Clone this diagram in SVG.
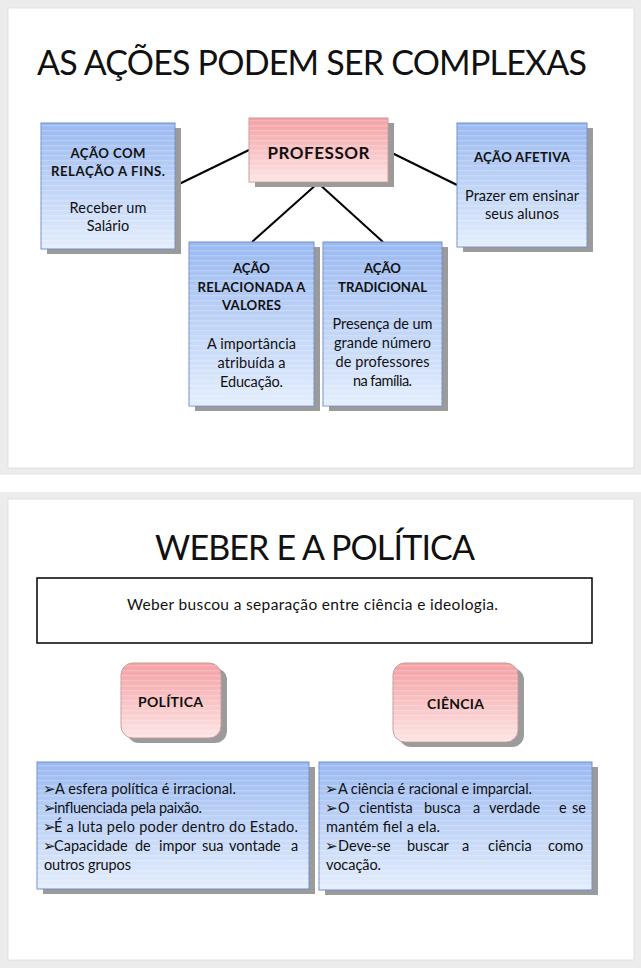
<svg xmlns="http://www.w3.org/2000/svg" width="641" height="968" viewBox="0 0 641 968">
<defs>
<linearGradient id="blue" x1="0" y1="0" x2="0" y2="1">
<stop offset="0" stop-color="#9ab9f1"/>
<stop offset="1" stop-color="#e4eefd"/>
</linearGradient>
<linearGradient id="pink" x1="0" y1="0" x2="0" y2="1">
<stop offset="0" stop-color="#f4a0a3"/>
<stop offset="1" stop-color="#fde5e5"/>
</linearGradient>
<pattern id="stripes" width="8" height="5" patternUnits="userSpaceOnUse">
<rect x="0" y="0" width="8" height="1.4" fill="#ffffff" fill-opacity="0.2"/>
</pattern>
</defs>
<style>
.bg{fill:#ececec}
.slide{fill:#ffffff;stroke:#dcdcdc;stroke-width:0.8}
.shadow{fill:#9b9b9b}
.bbox{fill:url(#blue);stroke:#7090cc;stroke-width:1}
.pbox{fill:url(#pink);stroke:#c99a9a;stroke-width:1}
.str{fill:url(#stripes);stroke:none}
.title{font-family:Lato,"Open Sans",sans-serif;font-size:34px;fill:#111;text-anchor:middle}
.hb{font-family:Lato,"Open Sans",sans-serif;font-size:13.2px;font-weight:bold;fill:#111;text-anchor:middle}
.tb{font-family:Lato,"Open Sans",sans-serif;font-size:14.5px;fill:#111;text-anchor:middle}
.tl{font-family:Lato,"Open Sans",sans-serif;font-size:14.5px;fill:#111}
.ar{font-family:"DejaVu Sans",sans-serif;font-size:15px;fill:#111}
.conn{stroke:#000;stroke-width:2;fill:none}
</style>
<rect x="0" y="0" width="641" height="968" fill="#ffffff"/>
<rect class="bg" x="0" y="0" width="641" height="475"/>
<rect class="bg" x="0" y="492" width="641" height="476"/>
<rect class="slide" x="8" y="8" width="626" height="460"/>
<rect class="slide" x="8" y="499" width="626" height="461"/>

<text class="title" x="312" y="75" textLength="550">AS AÇÕES PODEM SER COMPLEXAS</text>

<g id="connectors">
<line class="conn" x1="249" y1="150" x2="175" y2="186"/>
<line class="conn" x1="388" y1="151" x2="457" y2="185"/>
<line class="conn" x1="318" y1="183" x2="252" y2="242"/>
<line class="conn" x1="318" y1="183" x2="383" y2="242"/>
</g>

<g id="professor">
<rect class="shadow" x="255" y="123" width="139" height="64"/>
<rect class="pbox" x="249" y="118" width="139" height="64"/>
<rect class="str" x="249" y="118" width="139" height="64"/>
<text class="hb" x="318.5" y="159" style="font-size:17px" textLength="102">PROFESSOR</text>
</g>

<g id="acao-fins">
<rect class="shadow" x="47" y="128" width="134" height="126"/>
<rect class="bbox" x="41" y="123" width="134" height="126"/>
<rect class="str" x="41" y="123" width="134" height="126"/>
<text class="hb" x="108" y="158" textLength="75">AÇÃO COM</text>
<text class="hb" x="108" y="176" textLength="114">RELAÇÃO A FINS.</text>
<text class="tb" x="108" y="213" textLength="77">Receber um</text>
<text class="tb" x="108" y="231">Salário</text>
</g>

<g id="acao-afetiva">
<rect class="shadow" x="463" y="128" width="130" height="124"/>
<rect class="bbox" x="457" y="123" width="130" height="124"/>
<rect class="str" x="457" y="123" width="130" height="124"/>
<text class="hb" x="522" y="162" textLength="96">AÇÃO AFETIVA</text>
<text class="tb" x="522" y="201" textLength="114">Prazer em ensinar</text>
<text class="tb" x="522" y="219" textLength="74">seus alunos</text>
</g>

<g id="acao-valores">
<rect class="shadow" x="195" y="247" width="125" height="164"/>
<rect class="bbox" x="189" y="242" width="125" height="164"/>
<rect class="str" x="189" y="242" width="125" height="164"/>
<text class="hb" x="251.5" y="273" textLength="37">AÇÃO</text>
<text class="hb" x="251.5" y="292" textLength="108">RELACIONADA A</text>
<text class="hb" x="251.5" y="310" textLength="59">VALORES</text>
<text class="tb" x="251.5" y="349" textLength="89">A importância</text>
<text class="tb" x="251.5" y="368" textLength="68">atribuída a</text>
<text class="tb" x="251.5" y="387" textLength="63">Educação.</text>
</g>

<g id="acao-tradicional">
<rect class="shadow" x="329" y="247" width="119" height="164"/>
<rect class="bbox" x="323" y="242" width="119" height="164"/>
<rect class="str" x="323" y="242" width="119" height="164"/>
<text class="hb" x="382.5" y="273" textLength="37">AÇÃO</text>
<text class="hb" x="382.5" y="292" textLength="89">TRADICIONAL</text>
<text class="tb" x="382.5" y="329" textLength="100">Presença de um</text>
<text class="tb" x="382.5" y="348" textLength="97">grande número</text>
<text class="tb" x="382.5" y="367" textLength="94">de professores</text>
<text class="tb" x="382.5" y="386" textLength="59">na família.</text>
</g>

<text class="title" x="315" y="560" textLength="320">WEBER E A POLÍTICA</text>

<g id="weber">
<rect x="37" y="578" width="555" height="65" fill="#ffffff" stroke="#000" stroke-width="1.5"/>
<text class="tb" x="312.5" y="610" style="font-size:15.5px" textLength="371">Weber buscou a separação entre ciência e ideologia.</text>
</g>

<g id="politica">
<rect class="shadow" x="127" y="668" width="100" height="75" rx="12"/>
<rect class="pbox" x="121" y="663" width="100" height="75" rx="12"/>
<rect class="str" x="121" y="663" width="100" height="75" rx="12"/>
<text class="hb" x="170.5" y="707" style="font-size:14px" textLength="65">POLÍTICA</text>
</g>

<g id="ciencia">
<rect class="shadow" x="399" y="668" width="125" height="79" rx="12"/>
<rect class="pbox" x="393" y="663" width="125" height="79" rx="12"/>
<rect class="str" x="393" y="663" width="125" height="79" rx="12"/>
<text class="hb" x="455.5" y="709" style="font-size:14px" textLength="57">CIÊNCIA</text>
</g>

<g id="politica-lista">
<rect class="shadow" x="43" y="767" width="272" height="127"/>
<rect class="bbox" x="37" y="762" width="272" height="127"/>
<rect class="str" x="37" y="762" width="272" height="127"/>
<text class="ar" x="43" y="794">➢</text>
<text class="tl" x="55" y="794" textLength="181">A esfera política é irracional.</text>
<text class="ar" x="43" y="813">➢</text>
<text class="tl" x="54" y="813" textLength="148">influenciada pela paixão.</text>
<text class="ar" x="43" y="832">➢</text>
<text class="tl" x="54" y="832" textLength="244">É a luta pelo poder dentro do Estado.</text>
<text class="ar" x="43" y="851">➢</text>
<text class="tl" y="851"><tspan x="54">Capacidade</tspan><tspan x="135">de</tspan><tspan x="159">impor</tspan><tspan x="202">sua</tspan><tspan x="229">vontade</tspan><tspan x="291">a</tspan></text>
<text class="tl" x="44" y="870" textLength="87">outros grupos</text>
</g>

<g id="ciencia-lista">
<rect class="shadow" x="325" y="767" width="273" height="128"/>
<rect class="bbox" x="319" y="762" width="273" height="128"/>
<rect class="str" x="319" y="762" width="273" height="128"/>
<text class="ar" x="325" y="794">➢</text>
<text class="tl" x="338" y="794" textLength="194">A ciência é racional e imparcial.</text>
<text class="ar" x="325" y="813">➢</text>
<text class="tl" y="813"><tspan x="338">O</tspan><tspan x="359">cientista</tspan><tspan x="424">busca</tspan><tspan x="473">a</tspan><tspan x="489">verdade</tspan><tspan x="559">e</tspan><tspan x="572">se</tspan></text>
<text class="tl" x="326" y="832" textLength="114">mantém fiel a ela.</text>
<text class="ar" x="325" y="851">➢</text>
<text class="tl" y="851"><tspan x="338">Deve-se</tspan><tspan x="407">buscar</tspan><tspan x="462">a</tspan><tspan x="488">ciência</tspan><tspan x="548">como</tspan></text>
<text class="tl" x="326" y="870" textLength="55">vocação.</text>
</g>
</svg>
